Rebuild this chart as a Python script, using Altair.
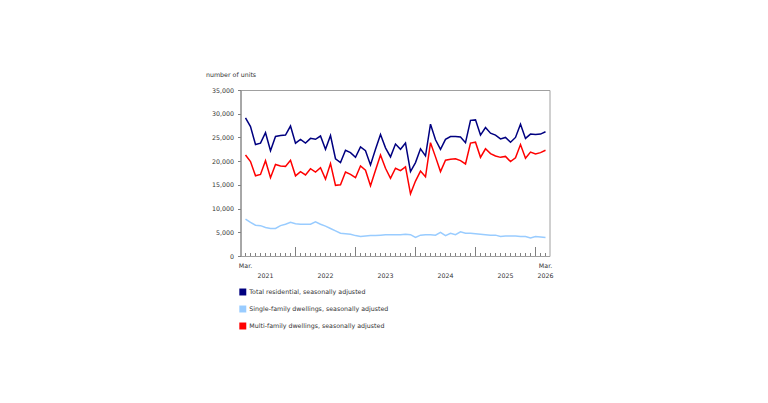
import altair as alt
import pandas as pd

# Month index 0 = Mar. 2021 ... 60 = Mar. 2026
months = list(range(61))

total = [29.1, 27.3, 23.5, 23.8, 26.0, 22.2, 25.2, 25.4, 25.5, 27.4,
         23.8, 24.6, 23.8, 24.8, 24.6, 25.3, 22.5, 25.4, 20.5, 19.7,
         22.3, 21.8, 20.8, 23.0, 22.2, 19.2, 22.5, 25.6, 22.8, 20.9,
         23.6, 22.5, 23.8, 17.8, 19.7, 22.6, 21.1, 27.8, 24.5, 22.5,
         24.6, 25.2, 25.2, 25.1, 23.9, 28.6, 28.7, 25.5, 27.1, 25.9,
         25.5, 24.7, 25.0, 24.0, 25.0, 27.8, 24.8, 25.7, 25.6, 25.7,
         26.2]

single = [7.8, 7.1, 6.5, 6.4, 6.0, 5.8, 5.8, 6.4, 6.7, 7.1,
          6.8, 6.7, 6.7, 6.7, 7.2, 6.7, 6.3, 5.8, 5.3, 4.8,
          4.7, 4.6, 4.3, 4.1, 4.2, 4.3, 4.3, 4.4, 4.5, 4.5,
          4.5, 4.5, 4.6, 4.5, 3.9, 4.4, 4.5, 4.5, 4.4, 5.0,
          4.3, 4.8, 4.5, 5.1, 4.8, 4.8, 4.7, 4.6, 4.5, 4.4,
          4.4, 4.1, 4.2, 4.2, 4.2, 4.1, 4.1, 3.8, 4.1, 4.0,
          3.9]

multi = [21.3, 19.9, 16.9, 17.2, 20.1, 16.5, 19.3, 19.0, 18.9, 20.2,
         16.9, 17.8, 17.1, 18.4, 17.7, 18.6, 16.2, 19.5, 14.9, 15.0,
         17.7, 17.2, 16.5, 19.0, 18.1, 14.8, 18.1, 21.3, 18.5, 16.4,
         18.5, 18.0, 18.8, 13.1, 15.8, 17.9, 16.7, 23.9, 20.9, 17.8,
         20.2, 20.4, 20.5, 20.1, 19.4, 23.8, 24.0, 20.8, 22.6, 21.6,
         21.1, 20.8, 21.0, 19.9, 20.7, 23.5, 20.6, 21.9, 21.5, 21.8,
         22.3]

series_names = ["Total residential, seasonally adjusted",
                "Single-family dwellings, seasonally adjusted",
                "Multi-family dwellings, seasonally adjusted"]
colors = ["#000080", "#99ccff", "#ff0000"]
y_ticks = [0, 5000, 10000, 15000, 20000, 25000, 30000, 35000]
years = [2021, 2022, 2023, 2024, 2025, 2026]

rows = []
for name, vals in zip(series_names, [total, single, multi]):
    for m, v in zip(months, vals):
        rows.append({"m": m, "units": v * 1000, "series": name})
df = pd.DataFrame(rows)

tick_df = pd.DataFrame({"m": months, "major": [(m + 2) % 12 == 0 for m in months]})

mar_df = pd.DataFrame({"m": [months[0], months[-1]], "text": ["Mar.", "Mar."]})
year_pos = []
for y in years:
    if y == years[0]:
        year_pos.append(4)
    elif y == years[-1]:
        year_pos.append(months[-1])
    else:
        year_pos.append(12 * (y - 2022) + 16)
year_df = pd.DataFrame({"m": year_pos, "text": [str(y) for y in years]})

W, H = 309, 166
FONT = "DejaVu Sans"
FS = 6.3
xscale = alt.Scale(domain=[-1, 60.8], nice=False, zero=False)
yscale = alt.Scale(domain=[0, 35000], nice=False, zero=True)
cscale = alt.Scale(domain=series_names, range=colors)

lines = alt.Chart(df).mark_line(strokeWidth=1.5).encode(
    x=alt.X("m:Q", scale=xscale,
            axis=alt.Axis(labels=False, ticks=False, grid=False, title=None,
                          domainColor="#808080", domainWidth=1)),
    y=alt.Y("units:Q", scale=yscale,
            axis=alt.Axis(values=y_ticks, format=",d", grid=False,
                          title="number of units", titleAngle=0,
                          titleAlign="left", titleBaseline="middle",
                          titleX=-35, titleY=-16, titleFont=FONT,
                          titleFontSize=FS, titleFontWeight="normal",
                          titleColor="#333333",
                          labelFont=FONT, labelFontSize=FS,
                          labelColor="#333333", labelPadding=4,
                          tickSize=3, tickColor="#808080",
                          domainColor="#808080")),
    color=alt.Color("series:N", scale=cscale,
                    legend=alt.Legend(orient="none", legendX=-1.2, legendY=198.5,
                                      title=None, direction="vertical",
                                      symbolType="square", symbolSize=12,
                                      symbolStrokeWidth=3.5,
                                      labelFont=FONT, labelFontSize=FS,
                                      labelColor="#333333", labelOffset=3,
                                      rowPadding=-2, padding=0,
                                      labelLimit=400)),
)

minor_ticks = alt.Chart(tick_df).transform_filter("!datum.major").mark_rule(
    color="#808080", strokeWidth=1).encode(
    x=alt.X("m:Q", scale=xscale, axis=None), y=alt.value(H), y2=alt.value(H - 3))

major_ticks = alt.Chart(tick_df).transform_filter("datum.major").mark_rule(
    color="#808080", strokeWidth=1).encode(
    x=alt.X("m:Q", scale=xscale, axis=None), y=alt.value(H), y2=alt.value(H - 9))

mar_labels = alt.Chart(mar_df).mark_text(
    font=FONT, fontSize=FS, color="#333333", baseline="middle").encode(
    x=alt.X("m:Q", scale=xscale, axis=None), y=alt.value(176), text="text:N")

year_labels = alt.Chart(year_df).mark_text(
    font=FONT, fontSize=FS, color="#333333", baseline="middle").encode(
    x=alt.X("m:Q", scale=xscale, axis=None), y=alt.value(186), text="text:N")

chart = alt.layer(lines, minor_ticks, major_ticks, mar_labels, year_labels).properties(
    width=W, height=H,
    autosize=alt.AutoSizeParams(type="none"),
    padding={"left": 232.5, "top": 82, "right": 200, "bottom": 140},
).configure_view(stroke="#a0a0a0", strokeWidth=1)

chart.save("out.html", embed_options={"renderer": "svg", "actions": False})
